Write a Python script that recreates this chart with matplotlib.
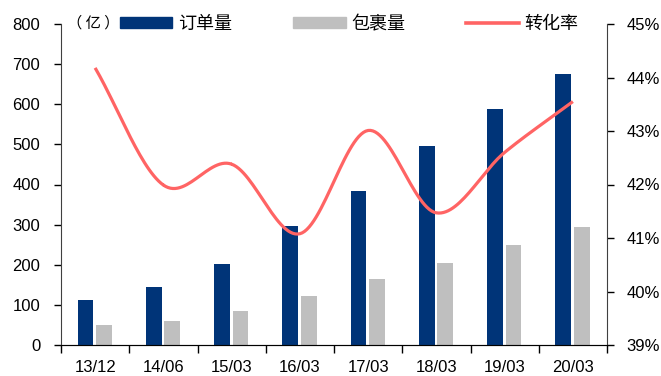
"""订单量、包裹量与转化率组合图."""

import numpy as np
import matplotlib.pyplot as plt
from matplotlib.patches import Patch
from matplotlib.lines import Line2D

plt.rcParams['font.family'] = ['Liberation Sans', 'Noto Sans CJK SC', 'DejaVu Sans']

periods = ["13/12", "14/06", "15/03", "16/03", "17/03", "18/03", "19/03", "20/03"]
orders = [111, 144, 201, 297, 384, 495, 587, 676]     # 订单量(亿)
parcels = [50, 60, 84, 121, 164, 205, 250, 295]       # 包裹量(亿)
conversion = [44.18, 41.99, 42.38, 41.08, 43.01, 41.47, 42.60, 43.55]  # 转化率 %

NAVY = "#003478"
GREY = "#BFBFBF"
RED = "#FF6464"
CJK = ["Noto Sans CJK SC", "DejaVu Sans"]


def smooth(xs, ys, n=30):
    """Catmull-Rom 曲线, 与 Excel 平滑线相近."""
    xs = np.asarray(xs, float)
    ys = np.asarray(ys, float)
    px = np.concatenate([[2 * xs[0] - xs[1]], xs, [2 * xs[-1] - xs[-2]]])
    py = np.concatenate([[2 * ys[0] - ys[1]], ys, [2 * ys[-1] - ys[-2]]])
    out_x, out_y = [], []
    t = np.linspace(0, 1, n)
    for i in range(1, len(px) - 2):
        for arr, out in ((px, out_x), (py, out_y)):
            p0, p1, p2, p3 = arr[i - 1:i + 3]
            seg = 0.5 * ((2 * p1) + (-p0 + p2) * t
                         + (2 * p0 - 5 * p1 + 4 * p2 - p3) * t ** 2
                         + (-p0 + 3 * p1 - 3 * p2 + p3) * t ** 3)
            out.extend(seg)
    return np.array(out_x), np.array(out_y)


fig = plt.figure(figsize=(6.61, 3.76), dpi=100)
ax = fig.add_axes([61 / 661, 1 - 345 / 376, (607 - 61) / 661, (345 - 24) / 376])

x = np.arange(len(periods))
w = 0.23
ax.bar(x - 0.14, orders, width=w, color=NAVY, zorder=2)
ax.bar(x + 0.13, parcels, width=w, color=GREY, zorder=2)

ax.set_xlim(-0.5, len(periods) - 0.5)
ax.set_ylim(0, 800)
ax.set_yticks(range(0, 801, 100))
ax.set_xticks(x)
ax.set_xticklabels(periods)
ax.set_xticks(np.arange(-0.5, len(periods), 1), minor=True)
ax.tick_params(axis="x", which="major", length=0, pad=11, labelsize=12)
ax.tick_params(axis="x", which="minor", length=6, direction="out", width=1)
ax.tick_params(axis="y", length=5, direction="out", pad=10, labelsize=12, width=1)
for side in ("top", "right"):
    ax.spines[side].set_visible(False)

ax2 = ax.twinx()
sx, sy = smooth(x, conversion)
ax2.plot(sx, sy, color=RED, lw=2.3, solid_capstyle="butt", zorder=3)
ax2.set_ylim(39, 45)
ax2.set_yticks(range(39, 46))
ax2.set_yticklabels([f"{v}%" for v in range(39, 46)])
ax2.tick_params(axis="y", length=5, direction="out", pad=9, labelsize=12, width=1)
for side in ("top", "left"):
    ax2.spines[side].set_visible(False)
for a, side in ((ax, "left"), (ax, "bottom"), (ax2, "right")):
    a.spines[side].set_color("#404040")

fig.text(67 / 661, 1 - 23 / 376, "（ 亿 ）", fontsize=11, va="center", ha="left", family=CJK)
handles = [Patch(color=NAVY), Patch(color=GREY), Line2D([], [], color=RED, lw=2.6)]
fig.legend(handles, ["订单量", "包裹量", "转化率"], ncol=3, frameon=False,
           loc="center left", bbox_to_anchor=(120 / 661, 1 - 24 / 376),
           handlelength=2.9, handleheight=0.58, columnspacing=3.4, handletextpad=0.3,
           borderaxespad=0, borderpad=0, prop={"family": CJK, "size": 13})

fig.savefig("out.png", dpi=100)
